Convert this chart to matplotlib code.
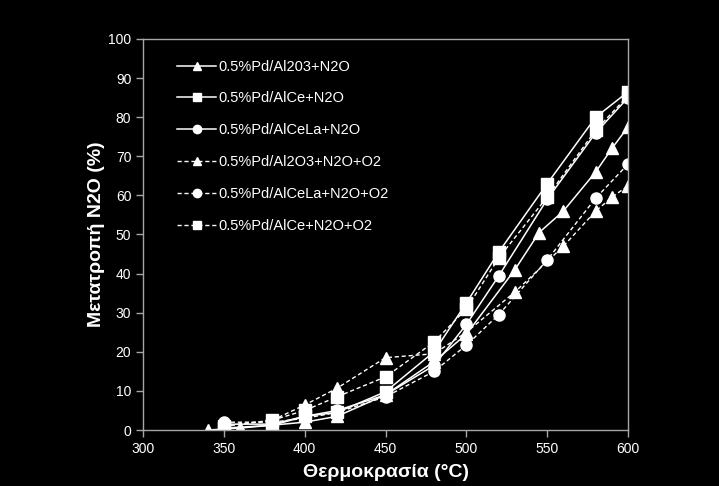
import matplotlib
matplotlib.use("Agg")
import matplotlib.pyplot as plt

plt.rcParams['font.family'] = ['Liberation Sans', 'DejaVu Sans']

# Data
x_al2o3 = [340, 360, 400, 420, 450, 480, 500, 530, 545, 560, 580, 590, 600]
y_al2o3 = [0, 0.5, 2, 3.5, 9, 17.5, 24.5, 41, 50.5, 56, 66, 72, 77.5]

x_alce = [350, 380, 400, 420, 450, 480, 500, 520, 550, 580, 600]
y_alce = [0.5, 1.2, 3.5, 4.5, 9.8, 20, 32.5, 45.5, 63, 80, 86.5]

x_alcela = [350, 380, 400, 420, 450, 480, 500, 520, 550, 580, 600]
y_alcela = [1.5, 1.5, 3.5, 5, 9, 16.5, 27, 39.4, 59, 76, 85]

x_al2o3_o2 = [350, 380, 400, 420, 450, 480, 500, 530, 560, 580, 590, 600]
y_al2o3_o2 = [1, 2.5, 6.4, 10.7, 18.5, 19.5, 25, 35.3, 47, 56, 59.5, 62.5]

x_alcela_o2 = [350, 380, 400, 420, 450, 480, 500, 520, 550, 580, 600]
y_alcela_o2 = [2, 2, 3, 4.5, 8.5, 15, 21.7, 29.5, 43.5, 59.3, 68]

x_alce_o2 = [350, 380, 400, 420, 450, 480, 500, 520, 550, 580, 600]
y_alce_o2 = [1, 2.5, 5, 8.5, 13.6, 22.5, 31, 44, 59.6, 76.7, 85.5]

labels = ["0.5%Pd/Al203+N2O", "0.5%Pd/AlCe+N2O", "0.5%Pd/AlCeLa+N2O",
          "0.5%Pd/Al2O3+N2O+O2", "0.5%Pd/AlCeLa+N2O+O2", "0.5%Pd/AlCe+N2O+O2"]

series = [
    (x_al2o3, y_al2o3, '^', '-'),
    (x_alce, y_alce, 's', '-'),
    (x_alcela, y_alcela, 'o', '-'),
    (x_al2o3_o2, y_al2o3_o2, '^', '--'),
    (x_alcela_o2, y_alcela_o2, 'o', '--'),
    (x_alce_o2, y_alce_o2, 's', '--'),
]

fig = plt.figure(figsize=(7.19, 4.86), dpi=100, facecolor='black')
ax = fig.add_axes([0.199, 0.1152, 0.6745, 0.8046], facecolor='black')

for (xs, ys, m, ls), lab in zip(series, labels):
    kw = dict(color='white', marker=m, linestyle=ls, linewidth=1.1,
              markersize=8, markerfacecolor='white', markeredgecolor='white',
              label=lab)
    if ls == '--':
        kw['dashes'] = (3, 2)
        kw['linewidth'] = 1.0
    ax.plot(xs, ys, **kw)

ax.set_xlim(300, 600)
ax.set_ylim(0, 100)
ax.set_xticks(range(300, 601, 50))
ax.set_yticks(range(0, 101, 10))

grey = '#a6a6a6'
for s in ax.spines.values():
    s.set_color(grey)
    s.set_linewidth(1.0)
ax.tick_params(axis='both', colors=grey, labelcolor='white', direction='out',
               length=5, width=1, labelsize=10)

ax.set_xlabel("Θερμοκρασία (°C)", color='white', fontsize=14, fontweight='bold', labelpad=6)
ax.set_ylabel("Μετατροπή N2O (%)", color='white', fontsize=14, fontweight='bold', labelpad=2)

leg = ax.legend(loc='upper left', bbox_to_anchor=(0.07, 0.947), frameon=False,
                fontsize=10.5, labelcolor='white', handlelength=2.7, markerscale=0.75,
                handletextpad=0.15, labelspacing=1.22, borderaxespad=0, borderpad=0)

fig.savefig("out.png", dpi=100, facecolor='black')
